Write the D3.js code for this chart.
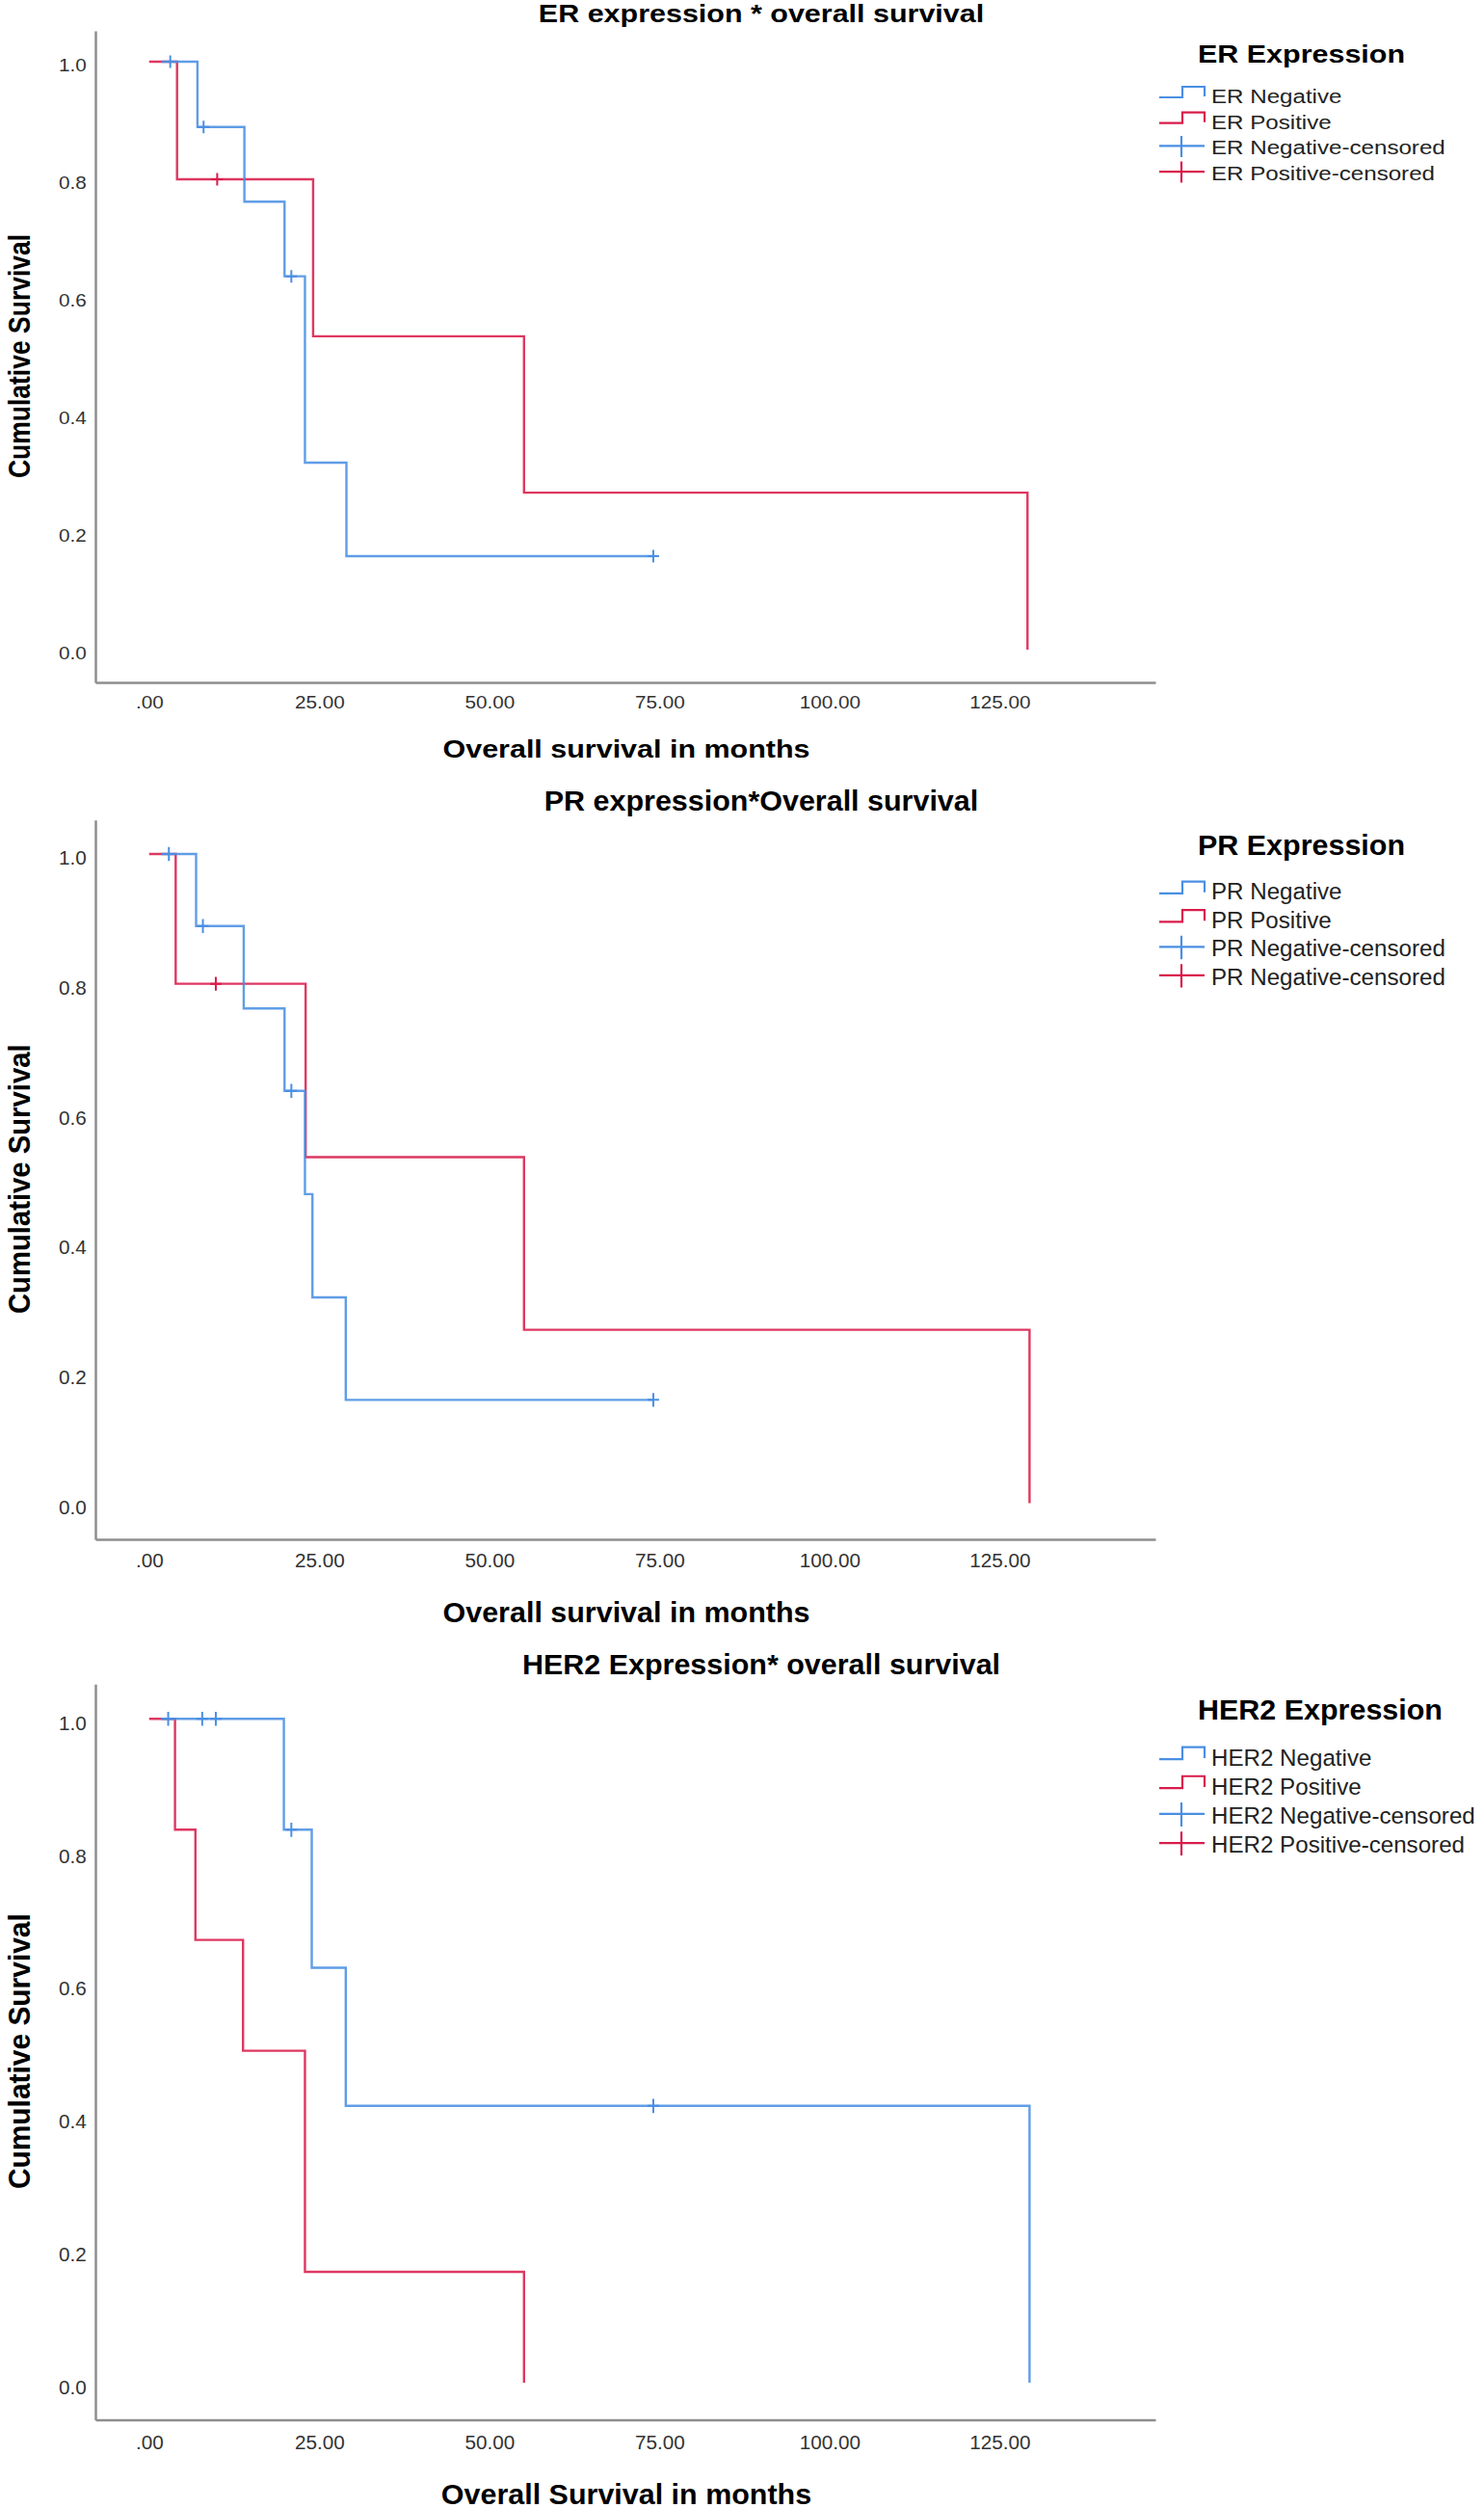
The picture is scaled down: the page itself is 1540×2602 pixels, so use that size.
<!DOCTYPE html>
<html>
<head>
<meta charset="utf-8">
<script src="https://cdn.jsdelivr.net/npm/d3@7"></script>
<style>
  body { margin: 0; background: #fff; }
  svg { display: block; font-family: "Liberation Sans", Arial, sans-serif; }
</style>
</head>
<body>
<div id="chart"></div>
<script>
const xTicks = [0, 25, 50, 75, 100, 125];
const yTicks = [0, 0.2, 0.4, 0.6, 0.8, 1.0];

// ER
const erNegTime = [1.8, 7.1, 14.0, 19.9, 22.9, 29.0, 74.1];
const erNegSurv = [1, 0.889, 0.762, 0.635, 0.318, 0.159, 0.159];
const erNegCensored = [3.1, 8.0, 20.9, 74.1];
const erPosTime = [0, 4.1, 24.1, 55.1, 129.1];
const erPosSurv = [1, 0.8, 0.533, 0.267, 0];
const erPosCensored = [10.0];

// PR
const prNegTime = [1.8, 6.9, 13.9, 19.9, 22.9, 24.0, 28.9, 74.1];
const prNegSurv = [1, 0.889, 0.762, 0.635, 0.476, 0.317, 0.159, 0.159];
const prNegCensored = [2.9, 7.9, 20.9, 74.1];
const prPosTime = [0, 3.9, 23.0, 55.1, 129.4];
const prPosSurv = [1, 0.8, 0.533, 0.267, 0];
const prPosCensored = [9.8];

// HER2
const herNegTime = [1.7, 19.8, 23.9, 28.9, 129.4];
const herNegSurv = [1, 0.833, 0.625, 0.417, 0];
const herNegCensored = [2.8, 7.8, 9.8, 20.9, 74.1];
const herPosTime = [0, 3.8, 6.8, 13.8, 22.9, 55.1];
const herPosSurv = [1, 0.833, 0.667, 0.5, 0.167, 0];
const herPosCensored = [];

const panelTitles = [
  "ER expression * overall survival",
  "PR expression*Overall survival",
  "HER2 Expression* overall survival",
];
const xTitles = [
  "Overall survival in months",
  "Overall survival in months",
  "Overall Survival in months",
];
const yTitle = "Cumulative Survival";
const legendTitles = ["ER Expression", "PR Expression", "HER2 Expression"];
const legendLabels = [
  ["ER Negative", "ER Positive", "ER Negative-censored", "ER Positive-censored"],
  ["PR Negative", "PR Positive", "PR Negative-censored", "PR Negative-censored"],
  ["HER2 Negative", "HER2 Positive", "HER2 Negative-censored", "HER2 Positive-censored"],
];

const width = 1540, height = 2602;
const SX = 1.15; // text in the source picture is a bit wider than normal
const blue = "#4a8fe3", red = "#d91c4b", axisGray = "#8e8e8e";

// each panel is drawn in the units of the first one, then stretched down
const panels = [
  { top: 0, vs: 1, neg: [erNegTime, erNegSurv, erNegCensored], pos: [erPosTime, erPosSurv, erPosCensored] },
  { top: 815.3, vs: 1.104, neg: [prNegTime, prNegSurv, prNegCensored], pos: [prPosTime, prPosSurv, prPosCensored] },
  { top: 1711, vs: 1.129, neg: [herNegTime, herNegSurv, herNegCensored], pos: [herPosTime, herPosSurv, herPosCensored] },
];

const x = d3.scaleLinear().domain([-7.9, 147.9]).range([99, 1199]);
const y = d3.scaleLinear().domain([-0.0557, 1.0525]).range([708, 32]);

const fmtX = (d) => (d === 0 ? ".00" : d.toFixed(2));
const fmtY = d3.format(".1f");

const svg = d3
  .select("#chart")
  .append("svg")
  .attr("width", width)
  .attr("height", height)
  .style("background", "#fff");

const stretch = (sel, tx, ty, rot) =>
  sel.attr(
    "transform",
    `translate(${tx},${ty}) scale(${SX},1)` + (rot ? ` rotate(${rot})` : "")
  );

const survAt = (time, surv, t) => {
  let s = surv[0];
  time.forEach((tt, i) => {
    if (tt <= t) s = surv[i];
  });
  return s;
};

const stepLine = d3
  .line()
  .x((d) => x(d[0]))
  .y((d) => y(d[1]))
  .curve(d3.curveStepAfter);

const chartBuilder = (p, k) => {
  const g = svg
    .append("g")
    .attr("transform", `translate(0,${p.top}) scale(1,${p.vs})`);

  // title
  g.append("text")
    .call(stretch, 790, 23)
    .attr("text-anchor", "middle")
    .style("font-size", "26.5px")
    .style("font-weight", "bold")
    .text(panelTitles[k]);

  // axes (no tick marks, only the frame and labels)
  const xAxis = g
    .append("g")
    .attr("transform", "translate(0," + y.range()[0] + ")")
    .call(
      d3.axisBottom(x).tickValues(xTicks).tickFormat(fmtX)
        .tickSize(0).tickSizeOuter(0).tickPadding(14)
    );
  const yAxis = g
    .append("g")
    .attr("transform", "translate(" + x.range()[0] + ",0)")
    .call(
      d3.axisLeft(y).tickValues(yTicks).tickFormat(fmtY)
        .tickSize(0).tickSizeOuter(0).tickPadding(8)
    );
  [xAxis, yAxis].forEach((a) => {
    a.attr("font-size", null).attr("font-family", null);
    a.select(".domain")
      .attr("stroke", axisGray)
      .attr("stroke-width", 2.5)
      .attr("vector-effect", "non-scaling-stroke");
    a.selectAll("text")
      .attr("transform", `scale(${SX},1)`)
      .style("font-size", "18px")
      .attr("fill", "#333");
  });
  yAxis.selectAll("text").attr("y", 4);

  g.append("text")
    .call(stretch, 650, 786)
    .attr("text-anchor", "middle")
    .style("font-size", "26.5px")
    .style("font-weight", "bold")
    .text(xTitles[k]);

  g.append("text")
    .call(stretch, 31, 369.5, -90)
    .attr("text-anchor", "middle")
    .style("font-size", "26.5px")
    .style("font-weight", "bold")
    .text(yTitle);

  // curves: positive under, negative on top
  const curves = [
    { d: p.pos, color: red },
    { d: p.neg, color: blue },
  ];
  curves.forEach((c) => {
    const [time, surv] = c.d;
    g.append("path")
      .datum(d3.zip(time, surv))
      .attr("d", stepLine)
      .attr("fill", "none")
      .attr("stroke", c.color)
      .attr("stroke-width", 2.4)
      .attr("stroke-opacity", 0.88)
      .attr("vector-effect", "non-scaling-stroke");
  });
  curves.forEach((c) => {
    const [time, surv, cens] = c.d;
    g.append("g")
      .selectAll("path")
      .data(cens)
      .enter()
      .append("path")
      .attr("d", (t) => {
        const cx = x(t), cy = y(survAt(time, surv, t));
        return `M${cx - 6},${cy}H${cx + 6}M${cx},${cy - 6.5}V${cy + 6.5}`;
      })
      .attr("fill", "none")
      .attr("stroke", c.color)
      .attr("stroke-width", 2)
      .attr("vector-effect", "non-scaling-stroke");
  });

  // legend
  const lg = g.append("g");
  lg.append("text")
    .call(stretch, 1243, 65)
    .style("font-size", "26.5px")
    .style("font-weight", "bold")
    .text(legendTitles[k]);

  const colors = [blue, red, blue, red];
  legendLabels[k].forEach((label, i) => {
    const b = 107 + i * 26.7;
    const sym =
      i < 2
        ? `M1203,${b - 6}H1227V${b - 17}H1250V${b - 7}`
        : `M1203,${b - 9}H1250M1226,${b - 19.5}V${b + 2.5}`;
    lg.append("path")
      .attr("d", sym)
      .attr("fill", "none")
      .attr("stroke", colors[i])
      .attr("stroke-width", 2.2)
      .attr("vector-effect", "non-scaling-stroke");
    lg.append("text")
      .call(stretch, 1257, b)
      .style("font-size", "21px")
      .attr("fill", "#222")
      .text(label);
  });
};

panels.forEach(chartBuilder);
</script>
</body>
</html>
